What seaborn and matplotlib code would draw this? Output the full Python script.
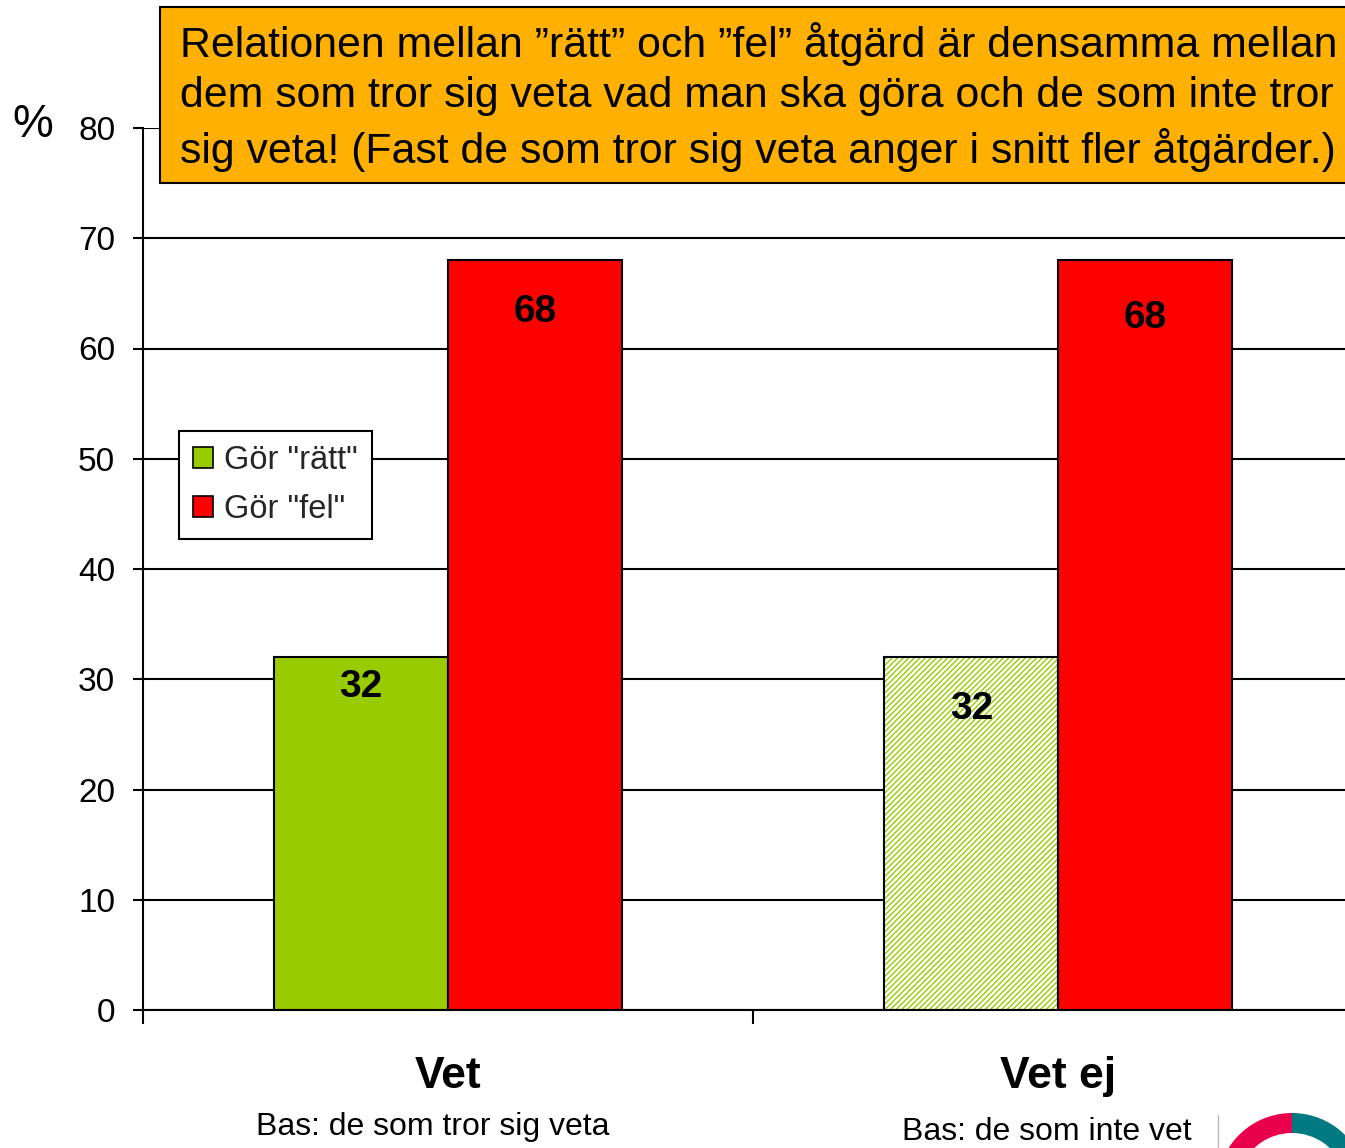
import numpy as np
import pandas as pd
import matplotlib
matplotlib.use("Agg")
import matplotlib.pyplot as plt
import seaborn as sns
from matplotlib.patches import Patch, Rectangle, Wedge

# ---------------------------------------------------------------
# data
# ---------------------------------------------------------------
groups = ["Vet", "Vet ej"]
series = ['Gör "rätt"', 'Gör "fel"']
ratt_values = [32, 32]
fel_values = [68, 68]
bas_labels = ["Bas: de som tror sig veta", "Bas: de som inte vet"]
title_text = ("Relationen mellan \u201drätt\u201d och \u201dfel\u201d åtgärd är densamma mellan\n"
              "dem som tror sig veta vad man ska göra och de som inte tror\n"
              "sig veta! (Fast de som tror sig veta anger i snitt fler åtgärder.)")
y_ticks = [0, 10, 20, 30, 40, 50, 60, 70, 80]

GREEN = "#99CC00"
RED = "#FF0000"
ORANGE = "#FFB000"

df = pd.DataFrame({
    "grupp": groups * 2,
    "serie": [series[0]] * 2 + [series[1]] * 2,
    "procent": ratt_values + fel_values,
})

sns.set_theme(style="white")
plt.rcParams["font.family"] = ["Liberation Sans", "DejaVu Sans"]

fig = plt.figure(figsize=(13.45, 11.48), dpi=100)
ax = fig.add_axes([143 / 1345, 1 - 1010 / 1148, 1 - 143 / 1345, (1010 - 128) / 1148])

sns.barplot(data=df, x="grupp", y="procent", hue="serie", order=groups,
            hue_order=series, palette=[GREEN, RED], width=0.57,
            edgecolor="black", linewidth=1.5, saturation=1, legend=False, ax=ax)

# hatched green bar for "Vet ej"
hb = ax.containers[0][1]
hb.set_facecolor("white")
hb.set_edgecolor(GREEN)
hb.set_hatch("//////")
hb.set_linewidth(0)
ax.add_patch(Rectangle((hb.get_x(), hb.get_y()), hb.get_width(), hb.get_height(),
                       fill=False, edgecolor="black", linewidth=1.5, zorder=hb.get_zorder() + 0.1))

# value labels inside bars (offsets in pixels below bar top)
label_offsets = [[-30, -52], [-52, -58]]
for gi, cont in enumerate(ax.containers):
    for bi, bar in enumerate(cont):
        ax.annotate(f"{bar.get_height():.0f}",
                    (bar.get_x() + bar.get_width() / 2, bar.get_height()),
                    xytext=(0, label_offsets[bi][gi] * 0.72), textcoords="offset points",
                    ha="center", va="center", fontsize=28, fontweight="bold", color="black",
                    zorder=5)

# axes styling
ax.set_ylim(0, 80)
ax.set_xlim(-0.5, 1.47)
ax.set_yticks(y_ticks)
ax.set_yticklabels([str(t) for t in y_ticks], fontsize=24, color="black")
ax.yaxis.grid(True, color="black", linewidth=1.5)
ax.set_axisbelow(True)
for side in ["top", "right"]:
    ax.spines[side].set_visible(False)
for side in ["left", "bottom"]:
    ax.spines[side].set_color("black")
    ax.spines[side].set_linewidth(1.5)
ax.tick_params(axis="y", which="major", direction="out", length=7, width=1.5,
               color="black", left=True, pad=13)

ax.set_xticks([0, 1])
ax.set_xticklabels(groups, fontsize=32, fontweight="bold", color="black")
ax.tick_params(axis="x", which="major", length=0, pad=33)
ax.set_xticks([-0.5, 0.5], minor=True)
ax.tick_params(axis="x", which="minor", direction="out", length=10, width=1.5,
               color="black", bottom=True)
ax.set_xlabel("")
ax.set_ylabel("")

# base notes under category names
bas_shift = [(-15, -117), (-11, -122)]
for i, txt in enumerate(bas_labels):
    dx, dy = bas_shift[i]
    ax.annotate(txt, (i, 0), xycoords=("data", "axes fraction"),
                xytext=(dx * 0.72, dy * 0.72), textcoords="offset points",
                ha="center", va="center", fontsize=23, color="black",
                annotation_clip=False)

# legend
handles = [Patch(facecolor=GREEN, edgecolor="black", linewidth=1.2),
           Patch(facecolor=RED, edgecolor="black", linewidth=1.2)]
leg = ax.legend(handles, series, loc="upper left", bbox_to_anchor=(0.03, 0.656),
                fontsize=23.5, frameon=True, fancybox=False, edgecolor="black",
                handlelength=0.62, handleheight=0.62, handletextpad=0.35,
                borderpad=0.42, labelspacing=0.55, borderaxespad=0)
leg.get_frame().set_linewidth(1.5)
leg.get_frame().set_alpha(1)

# percent sign
fig.text(33 / 1345, 1 - 125 / 1148, "%", fontsize=33, ha="center", va="center", color="black")

# headline box
fig.patches.append(Rectangle((160 / 1345, 1 - 183 / 1148), 1.0, (183 - 7) / 1148,
                             transform=fig.transFigure, facecolor=ORANGE,
                             edgecolor="black", linewidth=1.5, zorder=10))
fig.text(180 / 1345, 1 - 97 / 1148, title_text, fontsize=30.8, ha="left", va="center",
         linespacing=1.33, color="black", zorder=11)

# partial logo in the lower right corner
fig.add_artist(plt.Line2D([1218 / 1345, 1218 / 1345], [0, 33 / 1148],
                          transform=fig.transFigure, color="#BBBBBB", linewidth=1))
fig.add_artist(Wedge((1292, -40), 75, 90, 160, width=20, transform=None,
                     facecolor="#E8004C", edgecolor="none"))
fig.add_artist(Wedge((1292, -40), 75, 20, 90, width=20, transform=None,
                     facecolor="#007A80", edgecolor="none"))

fig.savefig("out.png", dpi=100)
